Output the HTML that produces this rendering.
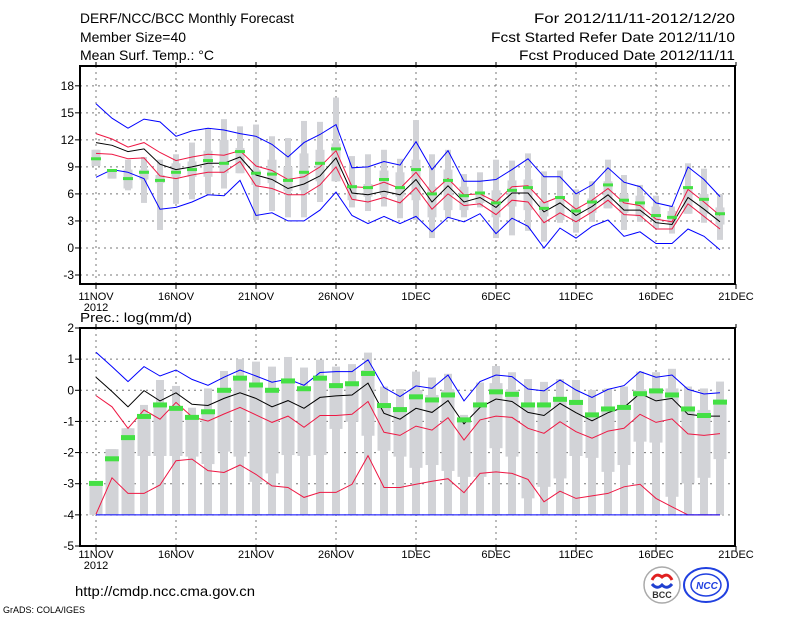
<!DOCTYPE html>
<html><head><meta charset="utf-8"><style>
html,body{margin:0;padding:0;background:#fff;}
svg{display:block;font-family:"Liberation Sans",sans-serif;}
</style></head><body>
<svg id="c" width="800" height="618" viewBox="0 0 800 618" xmlns="http://www.w3.org/2000/svg">
<g font-size="14" fill="#000">
<text x="80" y="23" textLength="214" lengthAdjust="spacingAndGlyphs">DERF/NCC/BCC Monthly Forecast</text>
<text x="80" y="42" textLength="106" lengthAdjust="spacingAndGlyphs">Member Size=40</text>
<text x="80" y="60" textLength="134" lengthAdjust="spacingAndGlyphs">Mean Surf. Temp.: °C</text>
<text x="534" y="23" textLength="201" lengthAdjust="spacingAndGlyphs">For 2012/11/11-2012/12/20</text>
<text x="491" y="42" textLength="244" lengthAdjust="spacingAndGlyphs">Fcst Started Refer Date 2012/11/10</text>
<text x="519" y="60" textLength="216" lengthAdjust="spacingAndGlyphs">Fcst Produced Date 2012/11/11</text>
</g>
<g id="top"></g>
<g id="bot"></g>
<text x="80" y="322" font-size="13" textLength="112" lengthAdjust="spacingAndGlyphs">Prec.: log(mm/d)</text>
<text x="75" y="596" font-size="14" textLength="180" lengthAdjust="spacingAndGlyphs">http://cmdp.ncc.cma.gov.cn</text>
<text x="3" y="613" font-size="9" textLength="82" lengthAdjust="spacingAndGlyphs">GrADS: COLA/IGES</text>
<g>
<circle cx="662" cy="585" r="18" fill="#fff" stroke="#aaa" stroke-width="1.5"/>
<path d="M652 580 q4 -8 10 -3 q6 -5 10 3" fill="none" stroke="#e02020" stroke-width="3"/>
<path d="M652 584 q5 6 10 1 q5 5 10 -1" fill="none" stroke="#2040d0" stroke-width="3"/>
<text x="662" y="598" font-size="9" font-weight="bold" text-anchor="middle" fill="#333">BCC</text>
</g>
<g>
<ellipse cx="706" cy="585" rx="22" ry="17" fill="none" stroke="#2040e0" stroke-width="2"/>
<ellipse cx="706" cy="585" rx="15" ry="11" fill="none" stroke="#2040e0" stroke-width="1.5"/>
<text x="707" y="589" font-size="10" font-weight="bold" font-style="italic" text-anchor="middle" fill="#2040e0">NCC</text>
</g>
</svg>
<script>
// ---- temperature data ----
const days = ["11NOV","16NOV","21NOV","26NOV","1DEC","6DEC","11DEC","16DEC","21DEC"];
const tTicks = [18,15,12,9,6,3,0,-3];
const tUpperBlue = [16.0,14.4,13.3,14.3,14.0,12.4,13.0,13.3,13.1,12.7,12.4,11.5,10.1,11.7,12.6,13.7,8.9,9.0,9.6,9.2,11.8,8.7,10.8,7.4,7.4,7.6,8.7,9.9,7.9,7.9,6.0,7.0,8.9,7.3,6.8,5.0,4.6,9.0,7.6,5.7];
const tLowerBlue = [7.85,8.7,8.4,7.7,4.3,4.5,5.1,5.9,5.8,7.5,3.6,3.9,3.0,3.0,4.2,6.2,3.6,2.7,3.5,2.7,3.5,1.8,3.4,2.9,3.8,1.6,3.3,2.4,0.0,2.2,1.1,2.4,3.1,1.3,1.8,0.5,0.5,2.1,1.3,-0.2];
const tUpperRed = [12.7,12.1,11.2,11.7,10.6,9.7,10.1,10.4,10.3,10.8,9.1,8.6,7.6,7.9,9.0,10.8,6.8,6.7,7.3,6.6,8.4,6.1,7.7,5.9,6.0,5.1,6.8,6.9,5.0,5.7,4.3,5.3,6.6,5.0,4.7,3.2,2.9,6.5,5.1,3.6];
const tMean = [11.7,11.4,10.7,11.0,9.3,8.7,9.0,9.4,9.4,10.1,8.1,7.6,6.6,7.1,8.0,10.0,6.1,5.9,6.3,5.9,7.6,5.1,6.9,5.1,5.6,4.5,6.1,6.1,4.0,5.0,3.6,4.6,5.9,4.2,4.2,2.8,2.6,5.6,4.3,2.9];
const tLowerRed = [10.5,10.4,9.9,10.0,8.0,7.7,8.1,8.4,8.4,9.6,6.9,6.6,5.9,5.9,7.0,9.0,5.4,5.1,5.6,5.0,6.7,4.3,6.0,4.7,4.9,3.7,5.3,5.1,2.8,3.9,2.9,4.0,5.3,3.7,3.6,2.1,2.1,4.9,3.5,2.1];
const tGreen = [9.9,8.6,7.7,8.4,7.5,8.4,8.7,9.7,9.4,10.7,8.3,8.2,7.5,8.4,9.4,11.0,6.8,6.7,7.6,6.7,8.7,6.0,7.5,5.8,6.1,5.0,6.4,6.7,4.4,5.6,4.1,5.1,7.0,5.3,5.0,3.6,3.4,6.7,5.4,3.8];
const tMax = [10.9,8.7,9.8,10.1,9.8,10.4,11.7,13.3,14.3,13.5,13.7,12.4,12.2,14.1,14.0,16.7,10.2,10.4,10.9,9.9,14.2,10.4,10.9,8.2,8.4,9.8,9.7,10.5,8.5,8.6,6.5,7.4,9.8,8.1,7.0,5.8,4.6,9.4,8.8,6.0];
const tQ3 = [10.9,8.7,8.7,8.7,8.1,9.4,9.6,10.8,12.0,11.1,8.7,9.8,9.0,10.5,10.9,11.6,7.0,7.1,8.6,8.4,9.8,6.8,8.7,6.8,6.3,6.4,7.5,7.6,5.2,5.7,4.6,5.5,7.4,6.0,5.8,4.6,4.1,6.8,6.0,4.5];
const tQ1 = [9.1,7.7,6.6,7.6,7.2,7.9,7.9,7.9,8.3,8.3,7.0,7.2,6.3,6.4,7.4,7.4,5.3,5.7,6.0,5.7,5.3,3.4,4.2,4.2,5.0,3.4,4.6,4.2,3.5,3.1,3.1,3.9,4.4,3.9,3.5,3.1,2.7,3.8,3.8,2.6];
const tMin = [9.1,7.7,6.4,5.0,2.0,4.9,5.4,6.0,6.6,8.3,3.1,4.1,3.4,3.4,5.1,7.4,4.5,4.1,4.6,3.3,3.1,1.1,3.3,3.4,4.5,1.1,1.4,1.9,0.7,2.8,1.7,2.9,4.4,2.0,2.9,2.2,1.6,3.8,2.8,0.9];
// ---- precipitation data ----
const pTicks = [2,1,0,-1,-2,-3,-4,-5];
const pUpperBlue = [1.22,0.76,0.28,0.76,0.46,0.65,0.35,0.16,0.42,0.65,0.46,0.26,0.36,0.16,0.57,0.6,0.6,0.98,0.09,-0.2,0.14,0.06,0.49,-0.34,0.28,0.49,0.44,0.04,-0.02,0.33,0.01,-0.23,0.03,0.15,0.6,0.42,0.49,0.03,-0.12,-0.08];
const pLowerBlue = [-4,-4,-4,-4,-4,-4,-4,-4,-4,-4,-4,-4,-4,-4,-4,-4,-4,-4,-4,-4,-4,-4,-4,-4,-4,-4,-4,-4,-4,-4,-4,-4,-4,-4,-4,-4,-4,-4,-4,-4];
const pMean = [0.42,-0.04,-0.53,-0.01,-0.34,-0.08,-0.45,-0.49,-0.26,-0.08,-0.26,-0.53,-0.33,-0.58,-0.23,-0.18,-0.15,0.23,-0.74,-0.93,-0.58,-0.71,-0.33,-1.08,-0.55,-0.28,-0.36,-0.71,-0.81,-0.42,-0.72,-0.98,-0.72,-0.55,-0.1,-0.34,-0.26,-0.77,-0.83,-0.83];
const pUpperRed = [-0.17,-0.53,-1.22,-0.63,-0.93,-0.39,-0.85,-0.99,-0.76,-0.55,-0.79,-1.03,-0.83,-1.19,-0.81,-0.81,-0.77,-0.36,-1.35,-1.45,-1.15,-1.28,-0.88,-1.6,-0.95,-0.83,-0.87,-1.22,-1.38,-1.01,-1.33,-1.54,-1.31,-1.22,-0.77,-1.03,-0.92,-1.4,-1.45,-1.39];
const pLowerRed = [-3.98,-2.81,-3.31,-3.31,-3.04,-2.26,-2.21,-2.58,-2.64,-2.4,-2.7,-3.07,-3.12,-3.44,-3.28,-3.28,-3.02,-2.1,-3.12,-3.12,-3.02,-2.92,-2.84,-3.29,-2.67,-2.62,-2.67,-2.86,-3.58,-3.24,-3.47,-3.39,-3.31,-3.1,-3.02,-3.47,-3.74,-4,-4,-4];
const pGreen = [-2.99,-2.2,-1.52,-0.84,-0.47,-0.58,-0.87,-0.69,0,0.39,0.17,0,0.3,0.05,0.39,0.15,0.21,0.54,-0.49,-0.62,-0.21,-0.31,-0.15,-0.95,-0.47,-0.05,-0.13,-0.47,-0.47,-0.29,-0.39,-0.79,-0.6,-0.55,-0.11,-0.02,-0.15,-0.6,-0.81,-0.38];
const pMax = [-3.0,-1.89,-1.22,-0.47,0.33,0.14,-0.56,0.06,0.62,1.0,0.92,0.76,1.07,0.73,0.98,0.76,0.84,1.21,0.12,0.04,0.6,0.41,0.53,-0.79,0.25,0.78,0.58,0.36,0.27,0.36,0.33,0.01,0.06,0.12,0.6,0.58,0.69,0.12,0.06,0.28];
const pQ3 = [-3.0,-1.89,-1.22,-0.84,-0.42,-0.52,-0.85,-0.66,0.06,0.44,0.12,0.01,0.33,0.12,0.33,0.17,0.28,0.65,-0.47,-0.58,0.01,-0.15,0.01,-0.95,-0.42,0.23,0.01,-0.42,-0.42,-0.24,-0.31,-0.74,-0.53,-0.47,0.01,0.01,0.06,-0.58,-0.63,-0.31];
const pQ1 = [-4,-4,-4,-2.11,-2.11,-2.11,-2.13,-2.37,-1.97,-2.13,-2.94,-2.67,-2.08,-2.11,-2.08,-1.24,-1.01,-1.46,-1.94,-2.13,-2.49,-2.4,-2.59,-2.78,-2.78,-1.86,-2.13,-3.47,-3.1,-2.83,-2.11,-2.17,-2.62,-2.4,-1.65,-1.68,-3.42,-2.99,-2.81,-2.21];
const pMin = [-4,-4,-4,-4,-4,-4,-4,-4,-4,-4,-4,-4,-4,-4,-4,-4,-4,-4,-4,-4,-4,-4,-4,-4,-4,-4,-4,-4,-4,-4,-4,-4,-4,-4,-4,-4,-4,-4,-4,-4];

const NS='http://www.w3.org/2000/svg';
function mk(parent, tag, attrs){const e=document.createElementNS(NS,tag);for(const k in attrs)e.setAttribute(k,attrs[k]);parent.appendChild(e);return e;}
const X0=96, DX=16;
const xs = d => X0 + DX*d;

function panel(g, cfg){
  const {top,bot,vmax,vmin,ticks,labY,series,box,gw,gh,tw,bw} = cfg;
  const ys = v => top + (vmax - v)*(bot-top)/(vmax-vmin);
  ticks.forEach(t=>{
    const yy=ys(t);
    if(yy>top+2 && yy<bot-2){
      const gl=mk(g,'line',{x1:80,x2:735,y1:yy,y2:yy,stroke:'#777','stroke-dasharray':'2,4','stroke-width':1});
      
      
    }
    const tk=mk(g,'line',{x1:75,x2:80,y1:yy,y2:yy,stroke:'#000'});
    
    
    const tl=mk(g,'text',{x:74,y:yy+4,'text-anchor':'end','font-size':12});
    tl.textContent=String(t);
    
    
  });
  days.forEach((d,i)=>{
    const xx=xs(i*5);
    if(xx<733){
      const gl=mk(g,'line',{x1:xx,x2:xx,y1:top,y2:bot,stroke:'#777','stroke-dasharray':'2,4'});
      
      
    }
    mk(g,'line',{x1:xx,x2:xx,y1:bot,y2:bot+5,stroke:'#000'});
    mk(g,'line',{x1:xx,x2:xx,y1:top,y2:top-4,stroke:'#000'});
    const tl=mk(g,'text',{x:xx,y:labY,'text-anchor':'middle','font-size':11});
    tl.textContent=d;
    
    
  });
  const yr=mk(g,'text',{x:xs(0),y:labY+11,'text-anchor':'middle','font-size':11});
  yr.textContent='2012';
  
  
  box.max.forEach((mx,i)=>{
    const x=xs(i);
    const w=mk(g,'rect',{x:x-tw/2,y:ys(mx),width:tw,height:Math.max(1,ys(box.min[i])-ys(mx)),fill:'#d2d3d7'});
    
    
    const b=mk(g,'rect',{x:x-bw/2,y:ys(box.q3[i]),width:bw,height:Math.max(1,ys(box.q1[i])-ys(box.q3[i])),fill:'#d2d3d7'});
    
    
  });
  series.forEach(s=>{
    const pts=s.data.map((v,i)=>xs(i)+','+ys(v).toFixed(1)).join(' ');
    const p=mk(g,'polyline',{points:pts,fill:'none',stroke:s.color,'stroke-width':1});
    
    
  });
  cfg.green.forEach((v,i)=>{
    const r=mk(g,'rect',{x:xs(i)-gw/2,y:ys(v)-gh/2,width:gw,height:gh,fill:'#44e044'});
    
    
  });
  const fr=mk(g,'rect',{x:80,y:top,width:655,height:bot-top,fill:'none',stroke:'#000','stroke-width':2});
  
  
}

panel(document.getElementById('top'),{
  top:66,bot:284,vmax:20.2,vmin:-4.0,ticks:tTicks,labY:300,
  tw:6,bw:9,gw:10,gh:3,
  box:{max:tMax,q3:tQ3,q1:tQ1,min:tMin},
  green:tGreen,
  series:[
    {name:'upper-blue-line',data:tUpperBlue,color:'#0000ff'},
    {name:'lower-blue-line',data:tLowerBlue,color:'#0000ff'},
    {name:'upper-red-line',data:tUpperRed,color:'#ee1844'},
    {name:'lower-red-line',data:tLowerRed,color:'#ee1844'},
    {name:'ensemble-mean-line',data:tMean,color:'#000000'}
  ]
});
panel(document.getElementById('bot'),{
  top:328,bot:546,vmax:2,vmin:-5,ticks:pTicks,labY:558,
  tw:8,bw:13,gw:14,gh:5,
  box:{max:pMax,q3:pQ3,q1:pQ1,min:pMin},
  green:pGreen,
  series:[
    {name:'upper-blue-line',data:pUpperBlue,color:'#0000ff'},
    {name:'lower-red-line',data:pLowerRed,color:'#ee1844'},
    {name:'lower-blue-line',data:pLowerBlue,color:'#0000ff'},
    {name:'upper-red-line',data:pUpperRed,color:'#ee1844'},
    {name:'ensemble-mean-line',data:pMean,color:'#000000'}
  ]
});
</script>
</body></html>
